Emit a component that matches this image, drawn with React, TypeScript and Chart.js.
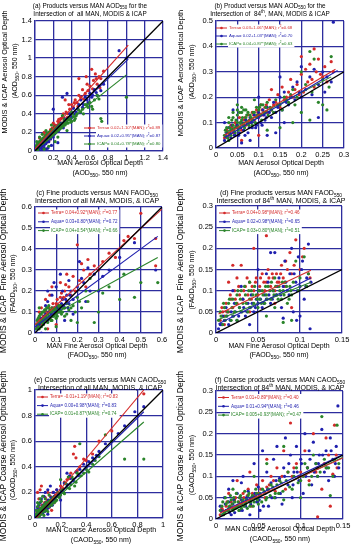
import React, { useEffect, useRef } from "react";
import { Chart, registerables } from "chart.js";
Chart.register(...registerables);

type P = [number, number];

// ---------------- DATA ----------------
// (a) AOD, all intersection
const aTerra: P[] = [[0.02,0.04],[0.03,0.06],[0.04,0.05],[0.05,0.08],[0.06,0.07],[0.07,0.1],[0.08,0.09],[0.09,0.13],[0.1,0.12],[0.11,0.15],[0.12,0.14],[0.13,0.18],[0.14,0.16],[0.15,0.2],[0.16,0.19],[0.18,0.22],[0.19,0.25],[0.2,0.21],[0.22,0.28],[0.24,0.26],[0.25,0.32],[0.27,0.3],[0.28,0.35],[0.3,0.36],[0.32,0.33],[0.34,0.42],[0.36,0.4],[0.38,0.45],[0.4,0.5],[0.42,0.47],[0.44,0.55],[0.46,0.52],[0.48,0.6],[0.5,0.58],[0.52,0.66],[0.55,0.62],[0.57,0.72],[0.6,0.7],[0.62,0.88],[0.64,0.76],[0.66,0.83],[0.68,0.72],[0.7,0.8],[0.72,0.78],[0.75,0.86],[0.48,0.78],[0.56,0.8],[0.33,0.55],[0.45,0.4],[0.2,0.3],[0.1,0.2],[0.05,0.14],[0.08,0.03],[0.15,0.1],[0.03,0.08],[0.05,0.1],[0.07,0.12],[0.09,0.1],[0.11,0.17],[0.13,0.15],[0.15,0.17],[0.17,0.23],[0.19,0.2],[0.21,0.27],[0.23,0.24],[0.26,0.34],[0.29,0.3],[0.31,0.4],[0.35,0.36],[0.37,0.5],[0.39,0.41],[0.43,0.52],[0.47,0.48],[0.53,0.56],[0.58,0.65],[0.63,0.67],[0.67,0.78],[0.71,0.68],[0.04,0.03],[0.06,0.05],[0.12,0.09],[0.17,0.13]];
const aAqua: P[] = [[0.01,0.02],[0.02,0.05],[0.03,0.03],[0.04,0.07],[0.05,0.04],[0.06,0.09],[0.07,0.05],[0.08,0.11],[0.09,0.07],[0.1,0.14],[0.11,0.09],[0.12,0.12],[0.13,0.16],[0.14,0.11],[0.15,0.18],[0.16,0.14],[0.17,0.2],[0.18,0.16],[0.2,0.22],[0.21,0.18],[0.22,0.26],[0.24,0.21],[0.25,0.28],[0.27,0.24],[0.28,0.3],[0.3,0.27],[0.32,0.35],[0.34,0.3],[0.35,0.62],[0.38,0.4],[0.4,0.36],[0.42,0.46],[0.45,0.42],[0.48,0.5],[0.5,0.55],[0.52,0.47],[0.55,0.58],[0.58,0.52],[0.6,0.62],[0.62,0.58],[0.65,0.66],[0.68,0.6],[0.7,0.7],[0.72,0.65],[0.75,0.72],[0.92,1.08],[1.0,1.0],[0.3,0.58],[0.2,0.45],[0.18,0.06],[0.25,0.09],[0.12,0.02],[0.05,0.0],[0.08,0.02],[0.1,0.03],[0.14,0.03],[0.02,0.01],[0.03,0.06],[0.04,0.02],[0.05,0.07],[0.06,0.03],[0.07,0.09],[0.08,0.06],[0.09,0.12],[0.1,0.06],[0.11,0.13],[0.12,0.08],[0.13,0.1],[0.14,0.15],[0.15,0.1],[0.16,0.17],[0.17,0.13],[0.19,0.21],[0.2,0.15],[0.22,0.19],[0.23,0.25],[0.26,0.22],[0.29,0.28],[0.31,0.25],[0.33,0.32],[0.36,0.34],[0.39,0.37],[0.43,0.4],[0.47,0.45],[0.53,0.5],[0.57,0.55],[0.63,0.6],[0.67,0.63]];
const aIcap: P[] = [[0.01,0.05],[0.02,0.06],[0.03,0.04],[0.04,0.08],[0.05,0.06],[0.06,0.1],[0.07,0.08],[0.08,0.12],[0.09,0.09],[0.1,0.13],[0.11,0.11],[0.12,0.15],[0.13,0.12],[0.14,0.17],[0.15,0.14],[0.16,0.18],[0.17,0.15],[0.18,0.2],[0.19,0.17],[0.2,0.22],[0.21,0.19],[0.22,0.24],[0.23,0.2],[0.24,0.25],[0.25,0.22],[0.26,0.27],[0.27,0.24],[0.28,0.28],[0.29,0.25],[0.3,0.3],[0.31,0.27],[0.32,0.31],[0.33,0.28],[0.35,0.33],[0.36,0.3],[0.38,0.34],[0.4,0.32],[0.42,0.37],[0.44,0.35],[0.46,0.4],[0.5,0.42],[0.52,0.45],[0.55,0.5],[0.58,0.47],[0.6,0.52],[0.62,0.48],[0.65,0.55],[0.7,0.56],[0.72,0.35],[0.73,0.32],[1.0,0.58],[0.22,0.1],[0.15,0.05],[0.08,0.18],[0.05,0.15],[0.12,0.22],[0.18,0.28],[0.02,0.1],[0.03,0.01],[0.1,0.02],[0.25,0.15],[0.35,0.22],[0.4,0.42],[0.3,0.38],[0.01,0.02],[0.015,0.04],[0.02,0.03],[0.025,0.07],[0.03,0.05],[0.035,0.09],[0.04,0.05],[0.045,0.07],[0.05,0.09],[0.055,0.11],[0.06,0.07],[0.065,0.09],[0.07,0.12],[0.075,0.1],[0.08,0.08],[0.085,0.14],[0.09,0.11],[0.095,0.13],[0.1,0.1],[0.105,0.15],[0.11,0.13],[0.115,0.12],[0.12,0.17],[0.125,0.13],[0.13,0.15],[0.135,0.19],[0.14,0.14],[0.145,0.16],[0.15,0.2],[0.155,0.16],[0.16,0.15],[0.165,0.21],[0.17,0.18],[0.175,0.16],[0.18,0.23],[0.185,0.19],[0.19,0.22],[0.2,0.18],[0.21,0.23],[0.215,0.26],[0.22,0.21],[0.23,0.23],[0.24,0.22],[0.25,0.27],[0.26,0.23],[0.27,0.29],[0.28,0.25],[0.3,0.27],[0.32,0.34],[0.34,0.3],[0.37,0.36],[0.39,0.31],[0.41,0.4],[0.43,0.33],[0.45,0.38],[0.48,0.44],[0.53,0.4],[0.57,0.5],[0.63,0.45],[0.68,0.6]];
const aTerraFit: P[] = [[0, 0.02], [1.02, 1.14]];
const aAquaFit: P[] = [[0, 0.02], [1.02, 0.99]];
const aIcapFit: P[] = [[0, 0.04], [1.0, 0.82]];
const aOneToOne: P[] = [[0, 0], [1.4, 1.4]];
const aLegend = ["Terra= 0.02+1.10*(MAN); r^{2}=0.89", "Aqua= 0.02+0.95*(MAN); r^{2}=0.87", "ICAP= 0.04+0.78*(MAN); r^{2}=0.80"];

// (b) AOD, 84th
const bTerra: P[] = [[0.02,0.04],[0.025,0.07],[0.03,0.05],[0.035,0.09],[0.04,0.06],[0.045,0.1],[0.05,0.08],[0.055,0.12],[0.06,0.07],[0.065,0.11],[0.07,0.09],[0.075,0.13],[0.08,0.1],[0.085,0.14],[0.09,0.11],[0.095,0.15],[0.1,0.12],[0.105,0.17],[0.11,0.13],[0.115,0.16],[0.12,0.14],[0.125,0.19],[0.13,0.15],[0.14,0.18],[0.145,0.21],[0.15,0.16],[0.155,0.24],[0.16,0.19],[0.17,0.22],[0.175,0.27],[0.18,0.2],[0.19,0.25],[0.2,0.29],[0.205,0.22],[0.21,0.31],[0.215,0.26],[0.22,0.33],[0.23,0.24],[0.235,0.3],[0.24,0.35],[0.25,0.28],[0.255,0.32],[0.26,0.26],[0.27,0.34],[0.275,0.3],[0.2,0.36],[0.13,0.23],[0.06,0.03],[0.1,0.05],[0.23,0.39],[0.028,0.06],[0.038,0.08],[0.048,0.09],[0.058,0.1],[0.068,0.12],[0.078,0.11],[0.088,0.13],[0.098,0.14],[0.108,0.15],[0.118,0.17],[0.135,0.17],[0.165,0.2],[0.185,0.23],[0.195,0.21],[0.225,0.27],[0.245,0.29]];
const bAqua: P[] = [[0.02,0.03],[0.025,0.06],[0.03,0.08],[0.035,0.04],[0.04,0.07],[0.045,0.05],[0.05,0.09],[0.055,0.06],[0.06,0.1],[0.065,0.07],[0.07,0.11],[0.075,0.06],[0.08,0.12],[0.085,0.08],[0.09,0.13],[0.095,0.09],[0.1,0.14],[0.105,0.1],[0.11,0.15],[0.115,0.11],[0.12,0.16],[0.13,0.12],[0.135,0.18],[0.14,0.14],[0.15,0.2],[0.155,0.15],[0.16,0.22],[0.17,0.17],[0.18,0.24],[0.185,0.19],[0.19,0.26],[0.2,0.2],[0.21,0.23],[0.22,0.28],[0.225,0.21],[0.23,0.31],[0.24,0.25],[0.25,0.3],[0.255,0.22],[0.26,0.28],[0.27,0.26],[0.275,0.495],[0.2,0.32],[0.15,0.28],[0.1,0.2],[0.06,0.02],[0.08,0.03],[0.04,0.15],[0.14,0.06],[0.12,0.05],[0.02,0.1],[0.24,0.12],[0.16,0.1],[0.022,0.05],[0.028,0.04],[0.033,0.06],[0.038,0.09],[0.043,0.05],[0.048,0.08],[0.053,0.05],[0.058,0.08],[0.063,0.09],[0.068,0.05],[0.073,0.1],[0.078,0.08],[0.083,0.1],[0.088,0.11],[0.093,0.08],[0.098,0.12],[0.103,0.13],[0.108,0.09],[0.113,0.13],[0.118,0.12],[0.125,0.14],[0.145,0.16],[0.165,0.18],[0.175,0.2],[0.195,0.22]];
const bIcap: P[] = [[0.02,0.05],[0.025,0.08],[0.03,0.06],[0.03,0.1],[0.035,0.07],[0.04,0.09],[0.04,0.12],[0.045,0.06],[0.05,0.1],[0.05,0.13],[0.055,0.08],[0.06,0.11],[0.06,0.14],[0.065,0.09],[0.07,0.12],[0.07,0.15],[0.075,0.1],[0.08,0.13],[0.085,0.11],[0.09,0.14],[0.095,0.12],[0.1,0.15],[0.105,0.13],[0.11,0.17],[0.115,0.14],[0.12,0.18],[0.13,0.15],[0.14,0.19],[0.15,0.17],[0.16,0.2],[0.17,0.18],[0.18,0.23],[0.19,0.2],[0.2,0.3],[0.21,0.25],[0.22,0.38],[0.225,0.22],[0.23,0.35],[0.24,0.18],[0.25,0.27],[0.26,0.15],[0.265,0.24],[0.27,0.36],[0.22,0.11],[0.25,0.17],[0.18,0.1],[0.15,0.08],[0.03,0.03],[0.12,0.07],[0.2,0.14],[0.09,0.19],[0.05,0.17],[0.022,0.07],[0.027,0.04],[0.032,0.08],[0.037,0.11],[0.042,0.07],[0.047,0.11],[0.052,0.07],[0.057,0.1],[0.062,0.12],[0.067,0.08],[0.072,0.13],[0.077,0.09],[0.082,0.12],[0.087,0.14],[0.092,0.1],[0.097,0.13],[0.102,0.16],[0.107,0.11],[0.112,0.14],[0.117,0.16],[0.122,0.13],[0.127,0.16],[0.135,0.14],[0.145,0.17],[0.155,0.15],[0.165,0.19],[0.03,0.12],[0.04,0.14],[0.05,0.15],[0.06,0.16],[0.035,0.05],[0.045,0.08],[0.055,0.14],[0.065,0.15],[0.075,0.14],[0.085,0.09],[0.095,0.16],[0.105,0.17],[0.175,0.21],[0.185,0.17]];
const bTerraFit: P[] = [[0.02, 0.05], [0.28, 0.31]];
const bAquaFit: P[] = [[0.02, 0.04], [0.285, 0.305]];
const bIcapFit: P[] = [[0.02, 0.06], [0.27, 0.28]];
const bOneToOne: P[] = [[0, 0], [0.3, 0.3]];
const bLegend = ["Terra= 0.03+1.06*(MAN); r^{2}=0.68", "Aqua= 0.02+1.03*(MAN); r^{2}=0.70", "ICAP= 0.04+0.87*(MAN); r^{2}=0.63"];

// (c) FAOD, all
const cTerra: P[] = [[0.01,0.03],[0.02,0.06],[0.03,0.04],[0.04,0.08],[0.05,0.06],[0.06,0.1],[0.07,0.07],[0.08,0.12],[0.09,0.09],[0.1,0.14],[0.11,0.1],[0.12,0.17],[0.13,0.13],[0.14,0.2],[0.15,0.15],[0.16,0.22],[0.17,0.18],[0.18,0.27],[0.19,0.2],[0.2,0.42],[0.21,0.25],[0.22,0.33],[0.23,0.3],[0.25,0.35],[0.26,0.28],[0.28,0.32],[0.3,0.3],[0.32,0.34],[0.35,0.38],[0.38,0.36],[0.42,0.44],[0.44,0.46],[0.47,0.45],[0.5,0.57],[0.57,0.45],[0.57,0.32],[0.08,0.22],[0.05,0.16],[0.12,0.24],[0.1,0.04],[0.15,0.28],[0.24,0.22],[0.03,0.12],[0.06,0.02],[0.015,0.05],[0.025,0.07],[0.035,0.06],[0.045,0.1],[0.055,0.09],[0.065,0.12],[0.075,0.1],[0.085,0.14],[0.095,0.12],[0.105,0.16],[0.115,0.13],[0.125,0.19],[0.135,0.17],[0.145,0.23],[0.02,0.1],[0.07,0.18]];
const cAqua: P[] = [[0.01,0.02],[0.02,0.04],[0.03,0.07],[0.04,0.05],[0.05,0.09],[0.06,0.06],[0.07,0.1],[0.08,0.08],[0.09,0.12],[0.1,0.09],[0.11,0.13],[0.12,0.11],[0.13,0.16],[0.14,0.12],[0.15,0.18],[0.16,0.14],[0.17,0.2],[0.18,0.16],[0.2,0.22],[0.21,0.34],[0.22,0.26],[0.23,0.24],[0.25,0.31],[0.26,0.2],[0.28,0.28],[0.3,0.2],[0.32,0.27],[0.35,0.3],[0.4,0.36],[0.47,0.43],[0.57,0.3],[0.12,0.28],[0.1,0.22],[0.08,0.18],[0.06,0.15],[0.14,0.06],[0.18,0.09],[0.24,0.15],[0.03,0.0],[0.05,0.13],[0.16,0.25],[0.015,0.03],[0.025,0.05],[0.035,0.06],[0.045,0.08],[0.055,0.07],[0.065,0.1],[0.075,0.09],[0.085,0.11],[0.095,0.1],[0.105,0.12],[0.115,0.1],[0.125,0.14],[0.135,0.13],[0.145,0.16],[0.155,0.12],[0.165,0.18],[0.06,0.2],[0.09,0.24],[0.13,0.2]];
const cIcap: P[] = [[0.01,0.04],[0.015,0.07],[0.02,0.05],[0.025,0.09],[0.03,0.06],[0.035,0.1],[0.04,0.07],[0.045,0.11],[0.05,0.08],[0.055,0.12],[0.06,0.09],[0.065,0.13],[0.07,0.07],[0.075,0.1],[0.08,0.12],[0.085,0.08],[0.09,0.11],[0.1,0.09],[0.11,0.13],[0.12,0.1],[0.13,0.12],[0.14,0.08],[0.15,0.14],[0.16,0.11],[0.18,0.13],[0.2,0.17],[0.22,0.12],[0.24,0.2],[0.25,0.15],[0.28,0.05],[0.3,0.1],[0.32,0.19],[0.35,0.22],[0.4,0.16],[0.42,0.28],[0.47,0.17],[0.5,0.24],[0.58,0.24],[0.2,0.05],[0.1,0.03],[0.05,0.02],[0.17,0.06],[0.26,0.26],[0.02,0.12],[0.005,0.02],[0.01,0.06],[0.015,0.03],[0.02,0.08],[0.025,0.05],[0.03,0.09],[0.035,0.05],[0.04,0.1],[0.045,0.06],[0.05,0.11],[0.055,0.07],[0.06,0.12],[0.065,0.08],[0.07,0.11],[0.075,0.06],[0.08,0.1],[0.085,0.11],[0.09,0.08],[0.095,0.12],[0.1,0.11],[0.105,0.08],[0.11,0.1],[0.115,0.12],[0.12,0.13],[0.125,0.09],[0.13,0.1],[0.14,0.12],[0.15,0.09],[0.17,0.12],[0.19,0.1],[0.21,0.15],[0.02,0.02],[0.03,0.03],[0.04,0.04],[0.06,0.05],[0.08,0.06],[0.1,0.07]];
const cTerraFit: P[] = [[0, 0.04], [0.6, 0.59]];
const cAquaFit: P[] = [[0, 0.03], [0.58, 0.46]];
const cIcapFit: P[] = [[0, 0.04], [0.58, 0.36]];
const cOneToOne: P[] = [[0, 0], [0.6, 0.6]];
const cLegend = ["Terra= 0.04+0.92*(MAN); r^{2}=0.77", "Aqua= 0.03+0.80*(MAN); r^{2}=0.72", "ICAP= 0.04+0.54*(MAN); r^{2}=0.66"];

// (d) FAOD, 84th
const dTerra: P[] = [[0.005,0.03],[0.008,0.05],[0.01,0.04],[0.012,0.07],[0.015,0.05],[0.018,0.08],[0.02,0.06],[0.022,0.1],[0.025,0.07],[0.028,0.09],[0.03,0.16],[0.032,0.08],[0.035,0.11],[0.038,0.09],[0.04,0.12],[0.042,0.08],[0.045,0.1],[0.048,0.13],[0.05,0.09],[0.052,0.11],[0.055,0.14],[0.058,0.1],[0.06,0.12],[0.062,0.15],[0.065,0.11],[0.068,0.13],[0.07,0.1],[0.072,0.14],[0.075,0.12],[0.078,0.16],[0.08,0.13],[0.082,0.11],[0.085,0.15],[0.088,0.19],[0.09,0.14],[0.095,0.22],[0.1,0.15],[0.105,0.2],[0.11,0.14],[0.112,0.13],[0.06,0.23],[0.045,0.2],[0.02,0.16],[0.015,0.12],[0.01,0.02],[0.04,0.05],[0.07,0.07],[0.09,0.06],[0.025,0.13],[0.007,0.06],[0.013,0.05],[0.017,0.09],[0.023,0.08],[0.027,0.11],[0.033,0.1],[0.037,0.13],[0.043,0.11],[0.047,0.12],[0.053,0.13],[0.057,0.12],[0.063,0.13],[0.067,0.14],[0.073,0.12],[0.077,0.14],[0.083,0.17],[0.093,0.16],[0.103,0.18]];
const dAqua: P[] = [[0.003,0.01],[0.005,0.02],[0.008,0.04],[0.01,0.03],[0.012,0.06],[0.015,0.02],[0.018,0.05],[0.02,0.04],[0.022,0.07],[0.025,0.03],[0.028,0.06],[0.03,0.05],[0.032,0.08],[0.035,0.04],[0.038,0.07],[0.04,0.06],[0.042,0.09],[0.045,0.05],[0.048,0.08],[0.05,0.07],[0.052,0.1],[0.055,0.06],[0.058,0.09],[0.06,0.08],[0.062,0.12],[0.065,0.07],[0.068,0.1],[0.07,0.19],[0.072,0.09],[0.075,0.13],[0.078,0.06],[0.08,0.11],[0.082,0.17],[0.085,0.1],[0.088,0.14],[0.09,0.2],[0.092,0.05],[0.095,0.12],[0.098,0.18],[0.1,0.11],[0.102,0.15],[0.105,0.08],[0.108,0.13],[0.11,0.21],[0.112,0.01],[0.113,0.12],[0.1,0.04],[0.03,0.11],[0.02,0.1],[0.05,0.15],[0.065,0.19],[0.08,0.035],[0.04,0.02],[0.06,0.14],[0.096,0.03],[0.007,0.02],[0.013,0.04],[0.017,0.03],[0.023,0.05],[0.027,0.04],[0.033,0.06],[0.037,0.05],[0.043,0.07],[0.047,0.06],[0.053,0.08],[0.057,0.07],[0.063,0.09],[0.067,0.08],[0.073,0.11],[0.077,0.09],[0.083,0.12],[0.087,0.09],[0.093,0.14],[0.097,0.1],[0.103,0.17],[0.107,0.11]];
const dIcap: P[] = [[0.003,0.03],[0.005,0.05],[0.008,0.02],[0.01,0.06],[0.012,0.04],[0.015,0.07],[0.018,0.03],[0.02,0.08],[0.022,0.05],[0.025,0.09],[0.028,0.06],[0.03,0.1],[0.032,0.07],[0.035,0.09],[0.038,0.05],[0.04,0.08],[0.042,0.1],[0.045,0.07],[0.048,0.09],[0.05,0.06],[0.052,0.08],[0.055,0.1],[0.058,0.07],[0.06,0.09],[0.062,0.11],[0.065,0.08],[0.068,0.1],[0.07,0.06],[0.072,0.09],[0.075,0.11],[0.078,0.08],[0.08,0.1],[0.082,0.12],[0.085,0.07],[0.088,0.11],[0.09,0.09],[0.092,0.12],[0.095,0.17],[0.098,0.1],[0.1,0.13],[0.105,0.18],[0.108,0.11],[0.11,0.14],[0.06,0.04],[0.09,0.03],[0.04,0.12],[0.025,0.03],[0.07,0.13],[0.08,0.025],[0.006,0.04],[0.009,0.07],[0.011,0.03],[0.014,0.05],[0.016,0.08],[0.019,0.06],[0.021,0.04],[0.024,0.07],[0.026,0.1],[0.029,0.08],[0.031,0.05],[0.034,0.11],[0.036,0.07],[0.039,0.1],[0.041,0.06],[0.044,0.09],[0.046,0.11],[0.049,0.08],[0.051,0.1],[0.054,0.07],[0.056,0.09],[0.059,0.11],[0.061,0.08],[0.064,0.1],[0.066,0.12],[0.069,0.09],[0.071,0.11],[0.074,0.08],[0.076,0.1],[0.079,0.12],[0.081,0.09],[0.084,0.11],[0.087,0.08],[0.089,0.1]];
const dTerraFit: P[] = [[0.003, 0.045], [0.113, 0.148]];
const dAquaFit: P[] = [[0.003, 0.022], [0.113, 0.13]];
const dIcapFit: P[] = [[0.003, 0.032], [0.113, 0.12]];
const dOneToOne: P[] = [[0, 0], [0.15, 0.15]];
const dLegend = ["Terra= 0.04+0.98*(MAN); r^{2}=0.46", "Aqua= 0.02+0.98*(MAN); r^{2}=0.65", "ICAP= 0.03+0.80*(MAN); r^{2}=0.51"];

// (e) CAOD, all
const eTerra: P[] = [[0.01,0.01],[0.02,0.03],[0.03,0.02],[0.04,0.05],[0.05,0.04],[0.06,0.07],[0.07,0.05],[0.08,0.09],[0.09,0.07],[0.1,0.11],[0.11,0.08],[0.12,0.13],[0.14,0.15],[0.16,0.18],[0.18,0.2],[0.2,0.25],[0.22,0.23],[0.25,0.3],[0.28,0.35],[0.3,0.5],[0.31,0.56],[0.32,0.47],[0.35,0.4],[0.4,0.45],[0.45,0.5],[0.5,0.6],[0.6,0.68],[0.85,0.97],[0.05,0.25],[0.03,0.15],[0.1,0.2],[0.08,0.16],[0.15,0.12],[0.13,0.06],[0.015,0.04],[0.025,0.06],[0.035,0.08],[0.045,0.06],[0.055,0.1],[0.065,0.08],[0.075,0.12],[0.085,0.1],[0.095,0.14],[0.105,0.13],[0.12,0.17],[0.14,0.2],[0.17,0.22],[0.23,0.28],[0.27,0.31],[0.33,0.37],[0.38,0.46],[0.02,0.2],[0.04,0.22]];
const eAqua: P[] = [[0.01,0.0],[0.02,0.02],[0.03,0.04],[0.04,0.03],[0.05,0.06],[0.06,0.04],[0.07,0.08],[0.08,0.06],[0.09,0.1],[0.1,0.08],[0.11,0.12],[0.12,0.1],[0.13,0.14],[0.14,0.12],[0.15,0.17],[0.16,0.14],[0.18,0.19],[0.2,0.22],[0.22,0.2],[0.25,0.26],[0.27,0.33],[0.3,0.29],[0.32,0.36],[0.35,0.38],[0.38,0.42],[0.4,0.4],[0.45,0.47],[0.5,0.52],[0.55,0.58],[0.6,0.6],[0.6,0.85],[0.7,0.72],[0.78,0.83],[0.85,0.87],[0.08,0.2],[0.12,0.25],[0.05,0.15],[0.1,0.03],[0.2,0.14],[0.25,0.35],[0.03,0.1],[0.015,0.03],[0.025,0.05],[0.035,0.02],[0.045,0.07],[0.055,0.04],[0.065,0.1],[0.075,0.05],[0.085,0.12],[0.095,0.07],[0.105,0.14],[0.115,0.09],[0.125,0.16],[0.135,0.1],[0.145,0.2],[0.17,0.22],[0.19,0.17],[0.23,0.27],[0.28,0.31],[0.34,0.33],[0.42,0.44],[0.48,0.49],[0.65,0.66],[0.02,0.08],[0.04,0.12],[0.07,0.17],[0.1,0.22]];
const eIcap: P[] = [[0.005,0.01],[0.01,0.03],[0.015,0.02],[0.02,0.05],[0.025,0.03],[0.03,0.06],[0.035,0.04],[0.04,0.07],[0.045,0.05],[0.05,0.08],[0.055,0.06],[0.06,0.09],[0.065,0.07],[0.07,0.1],[0.075,0.08],[0.08,0.11],[0.085,0.09],[0.09,0.12],[0.1,0.1],[0.11,0.13],[0.12,0.11],[0.13,0.14],[0.14,0.12],[0.15,0.15],[0.16,0.13],[0.18,0.17],[0.2,0.18],[0.22,0.2],[0.25,0.24],[0.28,0.26],[0.3,0.3],[0.32,0.28],[0.35,0.58],[0.38,0.35],[0.4,0.38],[0.45,0.42],[0.5,0.48],[0.55,0.65],[0.6,0.6],[0.7,0.46],[0.85,0.46],[0.02,0.12],[0.04,0.15],[0.06,0.17],[0.1,0.05],[0.2,0.3],[0.26,0.32],[0.01,0.0],[0.02,0.02],[0.03,0.01],[0.03,0.04],[0.04,0.03],[0.05,0.05],[0.05,0.03],[0.06,0.06],[0.07,0.05],[0.07,0.08],[0.08,0.07],[0.09,0.09],[0.09,0.06],[0.1,0.12],[0.11,0.09],[0.12,0.14],[0.13,0.1],[0.14,0.16],[0.15,0.12],[0.16,0.17],[0.17,0.14],[0.18,0.2],[0.19,0.16],[0.21,0.22],[0.23,0.19],[0.24,0.27],[0.27,0.23],[0.29,0.32],[0.31,0.25],[0.33,0.35],[0.36,0.33],[0.42,0.36],[0.47,0.45],[0.01,0.06],[0.02,0.09],[0.03,0.11],[0.05,0.13],[0.08,0.15],[0.11,0.18],[0.04,0.0],[0.07,0.02]];
const eTerraFit: P[] = [[0.01, 0.0], [0.85, 1.0]];
const eAquaFit: P[] = [[0, 0], [0.85, 0.83]];
const eIcapFit: P[] = [[0, 0.01], [0.85, 0.75]];
const eOneToOne: P[] = [[0, 0], [1, 1]];
const eLegend = ["Terra= -0.01+1.19*(MAN); r^{2}=0.83", "Aqua= 0.00+0.98*(MAN); r^{2}=0.83", "ICAP= 0.01+0.87*(MAN); r^{2}=0.74"];

// (f) CAOD, 84th
const fTerra: P[] = [[0.005,0.01],[0.008,0.02],[0.01,0.015],[0.012,0.03],[0.015,0.02],[0.018,0.04],[0.02,0.025],[0.022,0.045],[0.025,0.03],[0.028,0.05],[0.03,0.035],[0.032,0.06],[0.035,0.04],[0.038,0.07],[0.04,0.045],[0.042,0.03],[0.045,0.055],[0.048,0.08],[0.05,0.06],[0.055,0.09],[0.058,0.05],[0.06,0.075],[0.065,0.1],[0.07,0.065],[0.072,0.12],[0.075,0.09],[0.08,0.16],[0.082,0.07],[0.085,0.11],[0.088,0.225],[0.09,0.1],[0.095,0.13],[0.1,0.11],[0.105,0.16],[0.11,0.09],[0.115,0.2],[0.12,0.12],[0.125,0.07],[0.13,0.19],[0.135,0.03],[0.138,0.105],[0.14,0.22],[0.142,0.15],[0.06,0.14],[0.04,0.11],[0.025,0.09],[0.015,0.06],[0.12,0.005],[0.007,0.025],[0.013,0.04],[0.017,0.03],[0.023,0.05],[0.027,0.04],[0.033,0.05],[0.037,0.055],[0.043,0.06],[0.047,0.05],[0.053,0.07],[0.063,0.08],[0.068,0.09],[0.078,0.1],[0.092,0.12],[0.098,0.1],[0.108,0.12],[0.118,0.11],[0.128,0.13],[0.133,0.15],[0.143,0.12]];
const fAqua: P[] = [[0.005,0.03],[0.008,0.01],[0.01,0.05],[0.012,0.02],[0.015,0.04],[0.018,0.01],[0.02,0.035],[0.022,0.015],[0.025,0.06],[0.028,0.02],[0.03,0.045],[0.032,0.1],[0.035,0.03],[0.038,0.065],[0.04,0.01],[0.042,0.05],[0.045,0.13],[0.048,0.04],[0.05,0.075],[0.052,0.02],[0.055,0.16],[0.058,0.06],[0.06,0.11],[0.062,0.03],[0.065,0.085],[0.068,0.14],[0.07,0.05],[0.072,0.17],[0.075,0.095],[0.078,0.035],[0.08,0.12],[0.082,0.19],[0.085,0.08],[0.088,0.15],[0.09,0.05],[0.092,0.11],[0.095,0.17],[0.098,0.09],[0.1,0.14],[0.103,0.06],[0.105,0.2],[0.108,0.12],[0.11,0.16],[0.113,0.08],[0.115,0.18],[0.118,0.13],[0.12,0.1],[0.122,0.15],[0.125,0.21],[0.128,0.11],[0.13,0.16],[0.133,0.09],[0.135,0.19],[0.138,0.14],[0.14,0.1],[0.142,0.17],[0.144,0.265],[0.145,0.12],[0.02,0.09],[0.015,0.07],[0.03,0.085],[0.006,0.02],[0.011,0.035],[0.016,0.015],[0.021,0.045],[0.026,0.03],[0.031,0.02],[0.036,0.05],[0.041,0.035],[0.046,0.06],[0.051,0.045],[0.056,0.03],[0.061,0.07],[0.066,0.05],[0.071,0.09],[0.076,0.06],[0.081,0.1],[0.086,0.13],[0.091,0.08],[0.096,0.11],[0.101,0.13],[0.106,0.1],[0.111,0.14],[0.116,0.11],[0.121,0.13],[0.126,0.15],[0.131,0.12],[0.136,0.16],[0.141,0.13]];
const fIcap: P[] = [[0.005,0.02],[0.008,0.04],[0.01,0.015],[0.012,0.035],[0.015,0.025],[0.018,0.045],[0.02,0.02],[0.022,0.04],[0.025,0.03],[0.028,0.05],[0.03,0.025],[0.032,0.045],[0.035,0.035],[0.038,0.055],[0.04,0.03],[0.042,0.05],[0.045,0.04],[0.048,0.06],[0.05,0.035],[0.055,0.07],[0.06,0.05],[0.065,0.08],[0.07,0.06],[0.075,0.09],[0.08,0.045],[0.085,0.11],[0.09,0.07],[0.095,0.12],[0.1,0.09],[0.105,0.13],[0.11,0.08],[0.115,0.15],[0.12,0.1],[0.125,0.24],[0.13,0.12],[0.135,0.055],[0.14,0.14],[0.143,0.22],[0.145,0.13],[0.06,0.13],[0.045,0.1],[0.1,0.05],[0.08,0.17],[0.02,0.07],[0.007,0.03],[0.009,0.01],[0.011,0.05],[0.013,0.02],[0.014,0.04],[0.016,0.03],[0.017,0.055],[0.019,0.035],[0.021,0.05],[0.023,0.025],[0.024,0.06],[0.026,0.04],[0.027,0.02],[0.029,0.055],[0.031,0.04],[0.033,0.03],[0.034,0.065],[0.036,0.045],[0.037,0.025],[0.039,0.06],[0.041,0.04],[0.043,0.055],[0.044,0.03],[0.046,0.05],[0.047,0.07],[0.049,0.045],[0.052,0.06],[0.054,0.04],[0.057,0.065],[0.059,0.045],[0.062,0.07],[0.064,0.055],[0.067,0.075],[0.069,0.05],[0.072,0.08],[0.074,0.06],[0.077,0.085],[0.079,0.065],[0.083,0.09],[0.087,0.075],[0.092,0.1],[0.097,0.085],[0.103,0.1],[0.108,0.12],[0.113,0.1],[0.118,0.13],[0.123,0.11],[0.128,0.14],[0.133,0.12],[0.138,0.1]];
const fTerraFit: P[] = [[0.005, 0.014], [0.15, 0.143]];
const fAquaFit: P[] = [[0.005, 0.015], [0.15, 0.151]];
const fIcapFit: P[] = [[0.005, 0.01], [0.15, 0.145]];
const fOneToOne: P[] = [[0, 0], [0.15, 0.15]];
const fLegend = ["Terra= 0.01+0.89*(MAN); r^{2}=0.40", "Aqua= 0.01+0.94*(MAN); r^{2}=0.46", "ICAP= 0.005+0.93*(MAN); r^{2}=0.47"];

// ---------------- STYLE / LAYOUT ----------------
const FONT = "'Liberation Sans', Arial, Helvetica, sans-serif";
const RED = "#d42a2a";
const BLUE = "#1f1fae";
const GREEN = "#2a842a";
const GRID = "#2d2d9e";

interface Spec {
  box: [number, number, number, number];
  plot: [number, number, number, number];
  xMax: number; yMax: number; xStep: number; yStep: number;
  series: [P[], P[], P[]];
  fits: [P[], P[], P[], P[]];
  legend: string[];
  title: string[]; titleX: number; titleY: number[]; titleSize: number;
  xTitle: string[]; xTitleX: number; xTitleY: number[]; xTitleSize: number;
  yTitle: string[]; yTitleX: number[]; yTitleY: number[]; yTitleSize: number[];
  legX: number; legY: number; legDy: number; legSize: number;
}

const PANELS: Spec[] = [
  {
    box: [0, 0, 176, 180], plot: [35, 21, 163, 151], xMax: 1.4, yMax: 1.4, xStep: 0.2, yStep: 0.2,
    series: [aTerra, aAqua, aIcap], fits: [aTerraFit, aAquaFit, aIcapFit, aOneToOne], legend: aLegend,
    title: ["(a) Products versus MAN AOD_{550} for the", "Intersection of  all MAN, MODIS & ICAP"], titleX: 90, titleY: [6, 14], titleSize: 6.4,
    xTitle: ["MAN Aerosol Optical Depth", "(AOD_{550}, 550 nm)"], xTitleX: 100, xTitleY: [163, 173], xTitleSize: 7,
    yTitle: ["MODIS & ICAP Aerosol Optical Depth", "(AOD_{550}, 550 nm)"], yTitleX: [5, 15], yTitleY: [72, 71], yTitleSize: [7.3, 7],
    legX: 84, legY: 128, legDy: 8, legSize: 4.3,
  },
  {
    box: [176, 0, 177, 180], plot: [216, 21, 344, 148], xMax: 0.3, yMax: 0.5, xStep: 0.05, yStep: 0.1,
    series: [bTerra, bAqua, bIcap], fits: [bTerraFit, bAquaFit, bIcapFit, bOneToOne], legend: bLegend,
    title: ["(b) Product versus MAN AOD_{550} for the", "Intersection of  84^{th}, MAN, MODIS & ICAP"], titleX: 270, titleY: [6, 14], titleSize: 6.4,
    xTitle: ["MAN Aerosol Optical Depth", "(AOD_{550}, 550 nm)"], xTitleX: 281, xTitleY: [163, 173], xTitleSize: 7,
    yTitle: ["MODIS & ICAP Aerosol Optical Depth", "(AOD_{550}, 550 nm)"], yTitleX: [181, 192], yTitleY: [73, 72], yTitleSize: [7.5, 7],
    legX: 216, legY: 28, legDy: 8, legSize: 4.3,
  },
  {
    box: [0, 180, 176, 185], plot: [35, 207, 162, 333], xMax: 0.6, yMax: 0.6, xStep: 0.1, yStep: 0.1,
    series: [cTerra, cAqua, cIcap], fits: [cTerraFit, cAquaFit, cIcapFit, cOneToOne], legend: cLegend,
    title: ["(c) Fine products versus MAN FAOD_{550}", "Intersection of all MAN, MODIS, & ICAP"], titleX: 97, titleY: [193, 201], titleSize: 7,
    xTitle: ["MAN Fine Aerosol Optical Depth", "(FAOD_{550}, 550 nm)"], xTitleX: 97, xTitleY: [346, 355], xTitleSize: 7,
    yTitle: ["MODIS & ICAP  Fine Aerosol Optical Depth", "(FAOD_{550}, 550 nm)"], yTitleX: [4, 13], yTitleY: [271, 284], yTitleSize: [8.5, 7],
    legX: 38, legY: 213, legDy: 8.8, legSize: 4.5,
  },
  {
    box: [176, 180, 177, 185], plot: [216, 206, 342, 333], xMax: 0.15, yMax: 0.3, xStep: 0.05, yStep: 0.05,
    series: [dTerra, dAqua, dIcap], fits: [dTerraFit, dAquaFit, dIcapFit, dOneToOne], legend: dLegend,
    title: ["(d) Fine products versus MAN FAOD_{550}", "Intersection of 84^{th} MAN, MODIS, & ICAP"], titleX: 281, titleY: [193, 201], titleSize: 7,
    xTitle: ["MAN Fine Aerosol Optical Depth", "(FAOD_{550}, 550 nm)"], xTitleX: 279, xTitleY: [346, 355], xTitleSize: 7,
    yTitle: ["MODIS & ICAP  Fine Aerosol Optical Depth", "(FAOD_{550}, 550 nm)"], yTitleX: [181, 192], yTitleY: [271, 280], yTitleSize: [8.5, 7],
    legX: 219, legY: 213, legDy: 8.8, legSize: 4.6,
  },
  {
    box: [0, 365, 176, 185], plot: [35, 390, 163, 518], xMax: 1, yMax: 1, xStep: 0.2, yStep: 0.2,
    series: [eTerra, eAqua, eIcap], fits: [eTerraFit, eAquaFit, eIcapFit, eOneToOne], legend: eLegend,
    title: ["(e) Coarse products versus MAN CAOD_{550}", "Intersection of all MAN, MODIS, & ICAP"], titleX: 100, titleY: [380, 388], titleSize: 7,
    xTitle: ["MAN Coarse Aerosol Optical Depth", "(CAOD_{550}, 550 nm)"], xTitleX: 101, xTitleY: [530, 540], xTitleSize: 7,
    yTitle: ["MODIS & ICAP Coarse Aerosol Optical Depth", "(CAOD_{550}, 550 nm)"], yTitleX: [4, 13], yTitleY: [456, 470], yTitleSize: [8.4, 7],
    legX: 37, legY: 397, legDy: 8.6, legSize: 4.5,
  },
  {
    box: [176, 365, 177, 185], plot: [216, 391, 343, 519], xMax: 0.15, yMax: 0.3, xStep: 0.05, yStep: 0.05,
    series: [fTerra, fAqua, fIcap], fits: [fTerraFit, fAquaFit, fIcapFit, fOneToOne], legend: fLegend,
    title: ["(f) Coarse products versus MAN CAOD_{550}", "Intersection of 84^{th} MAN, MODIS, & ICAP"], titleX: 280, titleY: [380, 388], titleSize: 7,
    xTitle: ["MAN Coarse Aerosol Optical Depth", "(CAOD_{550}, 550 nm)"], xTitleX: 280, xTitleY: [529, 539], xTitleSize: 7,
    yTitle: ["MODIS & ICAP Coarse Aerosol Optical Depth", "(CAOD_{550}, 550 nm)"], yTitleX: [181, 192], yTitleY: [456, 465], yTitleSize: [8.4, 7],
    legX: 218, legY: 397.5, legDy: 8.8, legSize: 4.6,
  },
];

// ---------------- RICH TEXT ----------------
function parseRich(s: string) {
  const parts: { t: string; m: number }[] = [];
  const re = /([_^])\{([^}]*)\}/g;
  let last = 0;
  let m: RegExpExecArray | null;
  while ((m = re.exec(s))) {
    if (m.index > last) parts.push({ t: s.slice(last, m.index), m: 0 });
    parts.push({ t: m[2], m: m[1] === "_" ? 1 : -1 });
    last = re.lastIndex;
  }
  if (last < s.length) parts.push({ t: s.slice(last), m: 0 });
  return parts;
}

function measureRich(ctx: CanvasRenderingContext2D, s: string, size: number) {
  let w = 0;
  for (const p of parseRich(s)) {
    ctx.font = `${p.m ? size * 0.7 : size}px ${FONT}`;
    w += ctx.measureText(p.t).width;
  }
  return w;
}

function drawRich(ctx: CanvasRenderingContext2D, s: string, x: number, y: number, size: number, color: string, align: "left" | "center") {
  const w = measureRich(ctx, s, size);
  let cx = align === "center" ? x - w / 2 : x;
  ctx.textBaseline = "middle";
  ctx.textAlign = "left";
  ctx.fillStyle = color;
  for (const p of parseRich(s)) {
    const fs = p.m ? size * 0.7 : size;
    ctx.font = `${fs}px ${FONT}`;
    const dy = p.m === 1 ? size * 0.35 : p.m === -1 ? -size * 0.35 : 0;
    ctx.fillText(p.t, cx, y + dy);
    cx += ctx.measureText(p.t).width;
  }
  return w;
}

const fmt = (v: number | string) => String(+Number(v).toFixed(4));

function Panel({ spec }: { spec: Spec }) {
  const ref = useRef<HTMLCanvasElement>(null);
  useEffect(() => {
    const [bx, by, bw, bh] = spec.box;
    const [pl, pt, pr, pb] = spec.plot;
    const colors = [RED, BLUE, GREEN];
    const toXY = (arr: P[]) => arr.map(([x, y]) => ({ x, y }));

    const deco = {
      id: "deco",
      afterDraw(chart: any) {
        const ctx: CanvasRenderingContext2D = chart.ctx;
        ctx.save();
        let maxW = 0;
        spec.legend.forEach((t) => { maxW = Math.max(maxW, measureRich(ctx, t, spec.legSize)); });
        const lx = spec.legX - bx, ly = spec.legY - by;
        const seg = 11;
        ctx.fillStyle = "#ffffff";
        ctx.fillRect(lx + seg + 1, ly - 3.5, maxW + 3, spec.legDy * 2 + 7);
        spec.legend.forEach((t, i) => {
          const yy = ly + i * spec.legDy;
          ctx.strokeStyle = colors[i];
          ctx.lineWidth = 1;
          ctx.beginPath();
          ctx.moveTo(lx, yy);
          ctx.lineTo(lx + seg, yy);
          ctx.stroke();
          ctx.fillStyle = colors[i];
          ctx.beginPath();
          ctx.arc(lx + seg / 2, yy, 1.3, 0, Math.PI * 2);
          ctx.fill();
          drawRich(ctx, t, lx + seg + 2, yy, spec.legSize, colors[i], "left");
        });
        spec.title.forEach((t, i) => drawRich(ctx, t, spec.titleX - bx, spec.titleY[i] - by, spec.titleSize, "#000", "center"));
        spec.xTitle.forEach((t, i) => drawRich(ctx, t, spec.xTitleX - bx, spec.xTitleY[i] - by, spec.xTitleSize, "#000", "center"));
        spec.yTitle.forEach((t, i) => {
          ctx.save();
          ctx.translate(spec.yTitleX[i] - bx, spec.yTitleY[i] - by);
          ctx.rotate(-Math.PI / 2);
          drawRich(ctx, t, 0, 0, spec.yTitleSize[i], "#000", "center");
          ctx.restore();
        });
        ctx.restore();
      },
    };

    const fitColors = [RED, BLUE, GREEN, "#000000"];
    const datasets: any[] = [];
    spec.fits.forEach((f, i) => {
      datasets.push({
        data: toXY(f), showLine: true, pointRadius: 0, borderColor: fitColors[i],
        borderWidth: i === 3 ? 1.3 : 1.1, order: i === 3 ? 0 : 1, fill: false,
      });
    });
    [2, 1, 0].forEach((i, k) => {
      datasets.push({
        data: toXY(spec.series[i]), showLine: false, pointRadius: 1.6, pointBorderWidth: 0,
        pointBackgroundColor: colors[i], backgroundColor: colors[i], borderColor: colors[i], order: 2 + k,
      });
    });

    const tickFont = { family: FONT, size: 7.5 };
    const chart = new Chart(ref.current as HTMLCanvasElement, {
      type: "scatter",
      data: { datasets },
      plugins: [deco as any],
      options: {
        responsive: false,
        animation: false,
        devicePixelRatio: 1,
        layout: { padding: { top: pt - by, right: bx + bw - pr, left: 0, bottom: 0 } },
        plugins: { legend: { display: false }, tooltip: { enabled: false }, title: { display: false } },
        scales: {
          x: {
            type: "linear", min: 0, max: spec.xMax,
            afterFit: (s: any) => { s.height = by + bh - pb; },
            ticks: { stepSize: spec.xStep, callback: fmt, font: tickFont, color: "#000", padding: 2, maxRotation: 0, autoSkip: false },
            grid: { color: GRID, lineWidth: 1.3, drawTicks: false },
            border: { color: GRID, width: 1.3 },
          },
          y: {
            type: "linear", min: 0, max: spec.yMax,
            afterFit: (s: any) => { s.width = pl - bx; },
            ticks: { stepSize: spec.yStep, callback: fmt, font: tickFont, color: "#000", padding: 3, autoSkip: false },
            grid: { color: GRID, lineWidth: 1.3, drawTicks: false },
            border: { color: GRID, width: 1.3 },
          },
        },
      } as any,
    });
    return () => chart.destroy();
  }, [spec]);
  const [bx, by, bw, bh] = spec.box;
  return (
    <canvas
      ref={ref}
      width={bw}
      height={bh}
      style={{ position: "absolute", left: bx, top: by, width: bw, height: bh }}
    />
  );
}

export default function App() {
  return (
    <div style={{ position: "absolute", left: 0, top: 0, width: 353, height: 550, background: "#fff", overflow: "hidden" }}>
      {PANELS.map((p, i) => (
        <Panel key={i} spec={p} />
      ))}
    </div>
  );
}
